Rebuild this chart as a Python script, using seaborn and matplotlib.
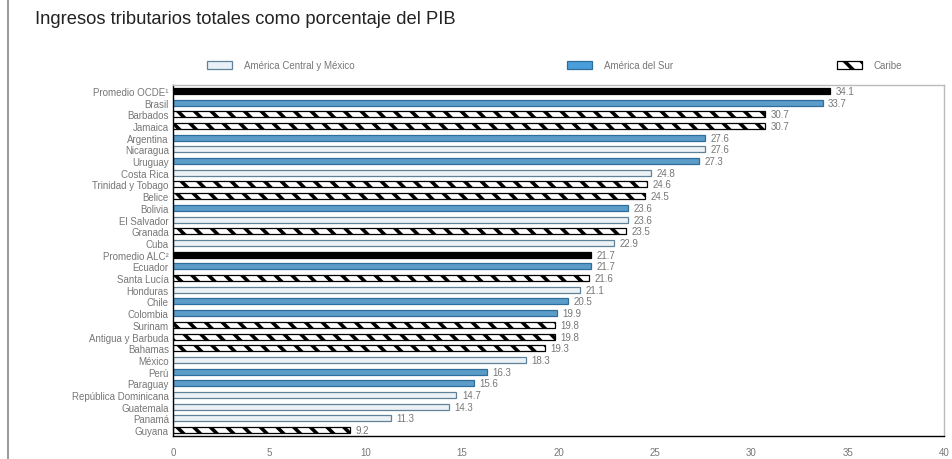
import pandas as pd
import matplotlib.pyplot as plt
import matplotlib.patches as mpatches
import seaborn as sns

# datos
paises = ['Promedio OCDE¹', 'Brasil', 'Barbados', 'Jamaica', 'Argentina', 'Nicaragua',
          'Uruguay', 'Costa Rica', 'Trinidad y Tobago', 'Belice', 'Bolivia', 'El Salvador',
          'Granada', 'Cuba', 'Promedio ALC²', 'Ecuador', 'Santa Lucía', 'Honduras', 'Chile',
          'Colombia', 'Surinam', 'Antigua y Barbuda', 'Bahamas', 'México', 'Perú',
          'Paraguay', 'República Dominicana', 'Guatemala', 'Panamá', 'Guyana']
valores = [34.1, 33.7, 30.7, 30.7, 27.6, 27.6, 27.3, 24.8, 24.6, 24.5, 23.6, 23.6,
           23.5, 22.9, 21.7, 21.7, 21.6, 21.1, 20.5, 19.9, 19.8, 19.8, 19.3, 18.3,
           16.3, 15.6, 14.7, 14.3, 11.3, 9.2]
grupos = ['Promedio', 'Sur', 'Caribe', 'Caribe', 'Sur', 'Central', 'Sur', 'Central',
          'Caribe', 'Caribe', 'Sur', 'Central', 'Caribe', 'Central', 'Promedio', 'Sur',
          'Caribe', 'Central', 'Sur', 'Sur', 'Caribe', 'Caribe', 'Caribe', 'Central',
          'Sur', 'Sur', 'Central', 'Central', 'Central', 'Caribe']
orden_grupos = ['Promedio', 'Sur', 'Caribe', 'Central']
ticks_x = [0, 5, 10, 15, 20, 25, 30, 35, 40]

df = pd.DataFrame({'pais': paises, 'valor': valores, 'grupo': grupos})

sns.set_style('white')
plt.rcParams['font.family'] = ['Liberation Sans', 'DejaVu Sans']
plt.rcParams['hatch.linewidth'] = 2.6

AZUL = '#4a9fdb'
CLARO = '#e9f1f7'
GRIS = '#777777'
estilos = {
    'Promedio': dict(face='black', edge='black', hatch=None),
    'Sur': dict(face=AZUL, edge='#2e6e9c', hatch=None),
    'Caribe': dict(face='white', edge='black', hatch='\\\\'),
    'Central': dict(face=CLARO, edge='#5f8299', hatch=None),
}

fig = plt.figure(figsize=(9.52, 4.6), dpi=100)
ax = fig.add_axes([173 / 952, 23 / 460, 771 / 952, 351 / 460])

sns.barplot(data=df, y='pais', x='valor', hue='grupo', hue_order=orden_grupos,
            order=paises, dodge=False, orient='h', width=0.52,
            palette={g: estilos[g]['face'] for g in orden_grupos},
            legend=False, ax=ax)

for grupo, cont in zip(orden_grupos, ax.containers):
    st = estilos[grupo]
    for bar in cont:
        bar.set_edgecolor(st['edge'])
        bar.set_linewidth(0.9)
        if st['hatch']:
            bar.set_hatch(st['hatch'])
    ax.bar_label(cont, fmt='%.1f', padding=4, fontsize=7, color=GRIS)

ax.set_xlim(0, 40)
ax.set_ylim(len(paises) - 0.5, -0.5)
ax.set_xticks(ticks_x)
ax.set_xlabel('')
ax.set_ylabel('')
ax.tick_params(axis='x', labelsize=7, colors=GRIS, direction='in', length=3, pad=8)
ax.tick_params(axis='y', labelsize=7, labelcolor=GRIS, length=0, pad=3)
for s in ax.spines.values():
    s.set_color('black')
    s.set_linewidth(1)
ax.spines['right'].set_color('#bbbbbb')
ax.spines['top'].set_color('#bbbbbb')

fig.text(35 / 952, 1 - 20 / 460, 'Ingresos tributarios totales como porcentaje del PIB',
         fontsize=13.2, va='center', ha='left', color='#222222')

# leyenda en tres piezas
entradas = [('Central', 'América Central y México', 198),
            ('Sur', 'América del Sur', 558),
            ('Caribe', 'Caribe', 828)]
for g, texto, x in entradas:
    st = estilos[g]
    h = mpatches.Patch(facecolor=st['face'], edgecolor=st['edge'], hatch=st['hatch'],
                       linewidth=0.9, label=texto)
    fig.legend(handles=[h], loc='center left', bbox_to_anchor=(x / 952, 1 - 66 / 460),
               frameon=False, fontsize=7, labelcolor=GRIS, handlelength=2.6,
               handleheight=0.9, handletextpad=1.2)

fig.add_artist(plt.Line2D([8 / 952, 8 / 952], [0, 1], color='#888888', lw=1.2))

fig.savefig('out.png', dpi=100)
